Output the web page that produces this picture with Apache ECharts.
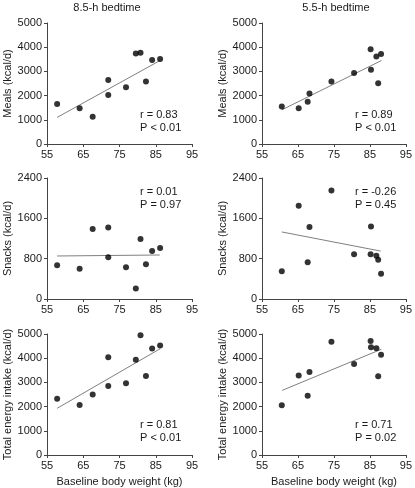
<!DOCTYPE html>
<html><head><meta charset="utf-8">
<script src="https://cdn.jsdelivr.net/npm/echarts@6/dist/echarts.min.js"></script>
<style>html,body{margin:0;padding:0;background:#fff}#c{width:415px;height:488px}</style>
</head><body><div id="c"></div>
<script>
// Baseline body weight (kg) per subject
const weight85 = [57.8, 64.0, 67.6, 71.9, 71.9, 76.8, 79.5, 80.8, 82.3, 84.0, 86.2];
const weight55 = [60.5, 65.2, 67.7, 68.2, 74.3, 80.6, 85.2, 85.3, 86.8, 87.3, 88.1];
// Energy intake (kcal/d)
const meals85  = [1650, 1480, 1130, 2640, 2020, 2350, 3740, 3770, 2580, 3470, 3510];
const snacks85 = [670, 600, 1390, 1420, 830, 630, 210, 1190, 690, 950, 1010];
const total85  = [2320, 2070, 2500, 4040, 2850, 2960, 3940, 4950, 3260, 4400, 4520];
const meals55  = [1550, 1480, 1750, 2090, 2580, 2930, 3920, 3070, 3620, 2510, 3720];
const snacks55 = [550, 1850, 730, 1430, 2150, 890, 890, 1440, 860, 780, 500];
const total55  = [2060, 3290, 2450, 3430, 4680, 3760, 4710, 4450, 4410, 3250, 4140];
// Trend line end points [weight, kcal/d]
const fitMeals85  = [[57.8, 1100], [86.2, 3450]];
const fitSnacks85 = [[57.8, 853], [86.1, 873]];
const fitTotal85  = [[57.8, 1930], [86.2, 4390]];
const fitMeals55  = [[60.5, 1410], [88.2, 3450]];
const fitSnacks55 = [[60.5, 1330], [88.0, 950]];
const fitTotal55  = [[60.6, 2670], [88.2, 4370]];
// Stats
const stats = [
  ['r = 0.83', 'P < 0.01'], ['r = 0.89', 'P < 0.01'],
  ['r = 0.01', 'P = 0.97'], ['r = -0.26', 'P = 0.45'],
  ['r = 0.81', 'P < 0.01'], ['r = 0.71', 'P = 0.02']
];
const columnTitles = ['8.5-h bedtime', '5.5-h bedtime'];
const rowLabels = ['Meals (kcal/d)', 'Snacks (kcal/d)', 'Total energy intake (kcal/d)'];
const xLabel = 'Baseline body weight (kg)';
const xTicks = {min: 55, max: 95, interval: 10};
const yTicks = [{max: 5000, interval: 1000}, {max: 2400, interval: 800}, {max: 5000, interval: 1000}];

const FONT = 'Liberation Sans, Arial, sans-serif';
const FS = 11;
const TXT = '#1a1a1a';
const gridLeft = [47, 262];
const gridW = 145;
const gridTop = [23, 178, 334];
const gridH = 121;

const panels = [
  {pts: [weight85, meals85], fit: fitMeals85},
  {pts: [weight55, meals55], fit: fitMeals55},
  {pts: [weight85, snacks85], fit: fitSnacks85},
  {pts: [weight55, snacks55], fit: fitSnacks55},
  {pts: [weight85, total85], fit: fitTotal85},
  {pts: [weight55, total55], fit: fitTotal55}
];

const plain = v => String(v);
const grid = [], xAxis = [], yAxis = [], series = [], title = [];
panels.forEach((p, i) => {
  const row = Math.floor(i / 2), col = i % 2;
  grid.push({left: gridLeft[col], top: gridTop[row], width: gridW, height: gridH});
  xAxis.push({
    type: 'value', gridIndex: i, min: xTicks.min, max: xTicks.max, interval: xTicks.interval,
    splitLine: {show: false},
    axisLine: {onZero: false, lineStyle: {color: '#444', width: 1}},
    axisTick: {show: true, length: 3, lineStyle: {color: '#444'}},
    axisLabel: {margin: 5, color: TXT, fontSize: FS, fontFamily: FONT, formatter: plain},
    name: row === 2 ? xLabel : '', nameLocation: 'middle', nameGap: 21,
    nameTextStyle: {color: TXT, fontSize: FS, fontFamily: FONT}
  });
  yAxis.push({
    type: 'value', gridIndex: i, min: 0, max: yTicks[row].max, interval: yTicks[row].interval,
    splitLine: {show: false},
    axisLine: {show: true, onZero: false, lineStyle: {color: '#444', width: 1}},
    axisTick: {show: true, length: 3, lineStyle: {color: '#444'}},
    axisLabel: {margin: 5, color: TXT, fontSize: FS, fontFamily: FONT, formatter: plain},
    name: rowLabels[row], nameLocation: 'middle', nameGap: 33,
    nameTextStyle: {color: TXT, fontSize: FS, fontFamily: FONT}
  });
  series.push({
    type: 'line', xAxisIndex: i, yAxisIndex: i, data: p.fit, symbol: 'none',
    lineStyle: {color: '#808080', width: 1}, silent: true, animation: false, z: 1
  });
  series.push({
    type: 'scatter', xAxisIndex: i, yAxisIndex: i,
    data: p.pts[0].map((x, k) => [x, p.pts[1][k]]),
    symbolSize: 6, itemStyle: {color: '#000'}, animation: false, z: 2
  });
  const s = stats[i];
  const txtTop = [109, 186, 419][row];
  title.push({
    text: s[0] + '\n' + s[1], left: gridLeft[col] + 93, top: txtTop, padding: 0,
    textStyle: {fontSize: FS, fontWeight: 'normal', color: TXT, fontFamily: FONT, lineHeight: 12.5}
  });
});
title.push({text: columnTitles[0], left: 107, top: 2, textAlign: 'center', padding: 0,
  textStyle: {fontSize: FS, fontWeight: 'normal', color: TXT, fontFamily: FONT}});
title.push({text: columnTitles[1], left: 336, top: 2, textAlign: 'center', padding: 0,
  textStyle: {fontSize: FS, fontWeight: 'normal', color: TXT, fontFamily: FONT}});

const chart = echarts.init(document.getElementById('c'), null, {renderer: 'canvas'});
chart.setOption({animation: false, backgroundColor: '#fff', title, grid, xAxis, yAxis, series});
</script>
</body></html>
